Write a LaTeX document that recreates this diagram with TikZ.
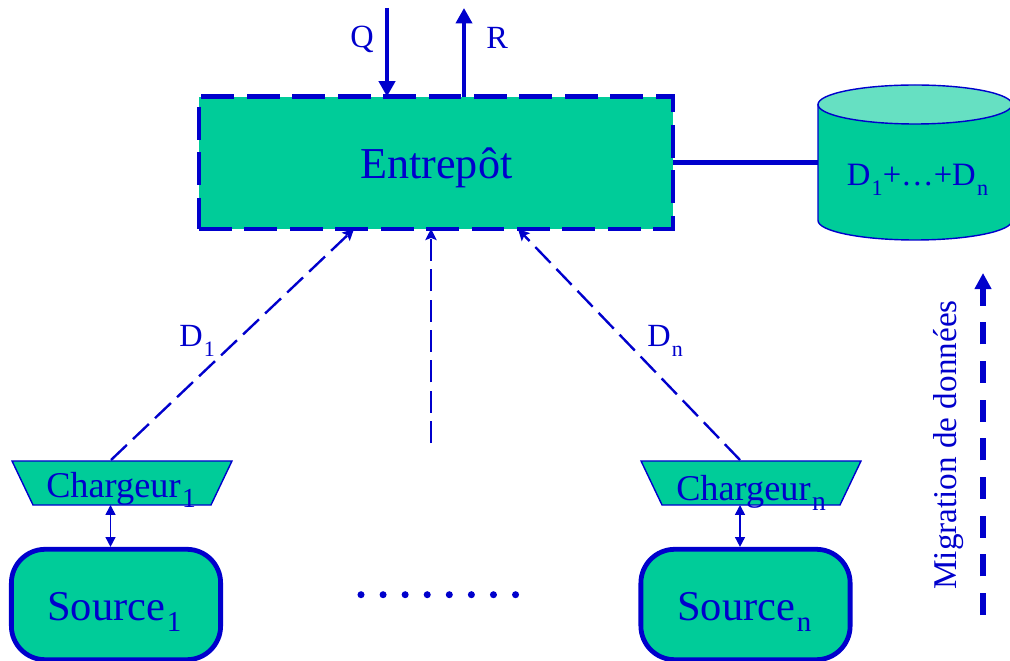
\documentclass[tikz,border=0pt]{standalone}
\usepackage{fontspec}
\setmainfont{Liberation Serif}
\usetikzlibrary{shapes.geometric,arrows.meta}
\definecolor{bleu}{RGB}{0,0,204}
\definecolor{vert}{RGB}{0,204,153}
\definecolor{vertclair}{RGB}{102,224,194}
\newcommand{\indice}[2][.68]{\kern.04em\raisebox{-.28em}{\scalebox{#1}{#2}}}
\tikzset{
	txt/.style={text=bleu,inner sep=0pt,anchor=base west},
	epais/.style={draw=bleu,line width=3.4pt},
	fleche/.style={epais,-{Triangle[length=11pt,width=11.4pt]}},
	tirets/.style={draw=bleu,line width=1.7pt,dash pattern=on 15.6pt off 6pt,-{Stealth[length=8pt,width=8pt,inset=1.5pt]}},
	lien/.style={draw=bleu,line width=1.2pt,{Triangle[length=7pt,width=7pt]}-{Triangle[length=7pt,width=7pt]}},
	chargeur/.style={trapezium,shape border rotate=180,draw=bleu,fill=vert,line width=1pt,trapezium angle=64.5,inner sep=0pt,text height=31.3pt,text depth=0pt,trapezium stretches body=true,minimum width=156.4pt},
	source/.style={rectangle,rounded corners=24pt,draw=bleu,fill=vert,line width=3.4pt,minimum width=148.8pt,minimum height=78.5pt}
}
\begin{document}
\begin{tikzpicture}[x=0.025cm,y=-0.025cm]
	\useasboundingbox (0,0) rectangle (1010,661);
	\clip (0,0) rectangle (1010,661);
	% entrepot et base
	\node [rectangle,fill=vert,draw=bleu,line width=3.2pt,outer sep=0pt,dash pattern=on 23.4pt off 8.9pt,minimum width=337pt,minimum height=94pt] (entrepot) at (436,162.7) {};
	\node [txt,font=\fontsize{31.4}{34}\selectfont] (entrepotTxt) at (360,179) {Entrepôt};
	\node [rectangle,inner sep=0pt,outer sep=0pt,minimum width=138pt,minimum height=110pt] (base) at (915,162.5) {};
	\draw [draw=bleu,fill=vert,line width=1pt] (818,104.5) -- (818,220.5) arc [start angle=180,end angle=0,x radius=97,y radius=19.5] -- (1012,104.5) -- cycle;
	\draw [draw=bleu,fill=vertclair,line width=1pt] (915,104.5) ellipse [x radius=97,y radius=19.5];
	\node [txt,font=\fontsize{23.2}{26}\selectfont] (baseTxt) at (846.5,186) {D\indice{1}+…+D\indice{n}};
	\draw [epais] (entrepot.east) -- (entrepot.east -| base.west);
	% requete et reponse
	\coordinate (q) at (387,8);
	\coordinate (r) at (464,8);
	\draw [fleche] (q) -- (q |- entrepot.north);
	\draw [fleche] (r |- entrepot.north) -- (r);
	\node [txt,font=\fontsize{23}{26}\selectfont] (qTxt) at (350,48) {Q};
	\node [txt,font=\fontsize{23}{26}\selectfont] (rTxt) at (486,49) {R};
	% sources et chargeurs
	\node [chargeur] (charg1) at (122,483) {\strut};
	\node [chargeur] (chargn) at (751,483) {\strut};
	\node [source] (source1) at (116,604.5) {};
	\node [source] (sourcen) at (745.5,604.5) {};
	\node [txt,font=\fontsize{25.8}{30}\selectfont] (charg1Txt) at (46,497) {Chargeur\indice[.76]{1}};
	\node [txt,font=\fontsize{25.8}{30}\selectfont] (chargnTxt) at (676,500) {Chargeur\indice[.76]{n}};
	\node [txt,font=\fontsize{30.2}{34}\selectfont] (source1Txt) at (47,620) {Source\indice{1}};
	\node [txt,font=\fontsize{30.2}{34}\selectfont] (sourcenTxt) at (677,620) {Source\indice{n}};
	\coordinate (l1) at (110.5,505);
	\coordinate (ln) at (740,505);
	\draw [lien] (l1) -- (l1 |- source1.north);
	\draw [lien] (ln) -- (ln |- sourcen.north);
	% flux vers l'entrepot
	\coordinate (d1) at (111,460);
	\coordinate (d1h) at (354,229);
	\coordinate (dm) at (431,443);
	\coordinate (dn) at (740,460);
	\coordinate (dnh) at (518,229);
	\draw [tirets] (d1) -- (d1h);
	\draw [tirets] (dm) -- (dm |- entrepot.south);
	\draw [tirets] (dn) -- (dnh);
	\node [txt,font=\fontsize{23}{26}\selectfont] (d1Txt) at (179,347) {D\indice{1}};
	\node [txt,font=\fontsize{23}{26}\selectfont] (dnTxt) at (647,347) {D\indice{n}};
	% points de suspension
	\coordinate (p1) at (361,594.7);
	\coordinate (p2) at (516.5,594.7);
	\draw [bleu,line width=5pt,line cap=round,dash pattern=on 0pt off 15.7pt] (p1) -- (p2);
	% migration
	\coordinate (m1) at (983,615);
	\coordinate (m2) at (983,273);
	\draw [draw=bleu,line width=4.6pt,dash pattern=on 15.6pt off 11.9pt,-{Triangle[length=11.4pt,width=11.4pt]}] (m1) -- (m2);
	\node [txt,rotate=90,font=\fontsize{23.6}{28}\selectfont] (migTxt) at (956,590) {Migration de données};
\end{tikzpicture}
\end{document}
